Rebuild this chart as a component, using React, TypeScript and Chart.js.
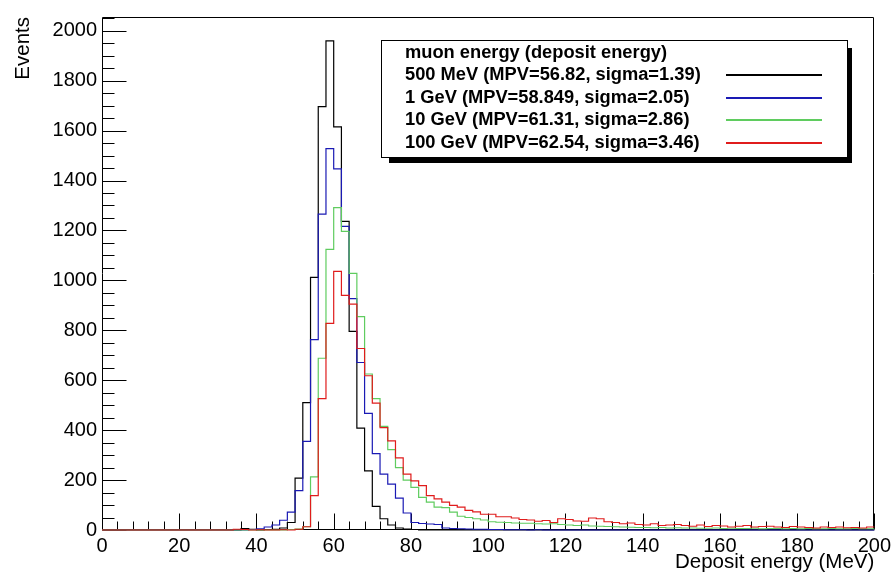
import React, { useEffect, useRef } from "react";
import { Chart, registerables } from "chart.js";

Chart.register(...registerables);

// ---- data ----
const X_MIN = 0;
const X_MAX = 200;
const BIN_WIDTH = 2;
const BIN_LOW_EDGES: number[] = Array.from({ length: (X_MAX - X_MIN) / BIN_WIDTH }, (_, i) => X_MIN + i * BIN_WIDTH);
const X_TICKS = [0, 20, 40, 60, 80, 100, 120, 140, 160, 180, 200];
const Y_TICKS = [0, 200, 400, 600, 800, 1000, 1200, 1400, 1600, 1800, 2000];
const Y_MAX = 2055;

const X_TITLE = "Deposit energy (MeV)";
const Y_TITLE = "Events";
const LEGEND_HEADER = "muon energy (deposit energy)";
const SERIES_LABELS = [
  "500 MeV (MPV=56.82, sigma=1.39)",
  "1 GeV (MPV=58.849, sigma=2.05)",
  "10 GeV (MPV=61.31, sigma=2.86)",
  "100 GeV (MPV=62.54, sigma=3.46)",
];
const SERIES_COLORS = ["#000000", "#1a1ab4", "#5fcc5f", "#e01c1c"];

const E_500MEV = [
  0, 0, 0, 0, 0, 0, 0, 0, 0, 0,
  0, 0, 0, 0, 0, 0, 0, 0, 6, 3,
  0, 2, 3, 8, 30, 208, 510, 1012, 1696, 1959,
  1615, 1236, 796, 408, 237, 95, 45, 20, 8, 4,
  2, 0, 0, 0, 0, 0, 0, 0, 0, 0,
  0, 0, 0, 0, 0, 0, 0, 0, 0, 0,
  0, 0, 0, 0, 0, 0, 0, 0, 0, 0,
  0, 0, 0, 0, 0, 0, 0, 0, 0, 0,
  0, 0, 0, 0, 0, 0, 0, 0, 0, 0,
  0, 0, 0, 0, 0, 0, 0, 0, 0, 0,
];
const E_1GEV = [
  0, 0, 0, 0, 0, 0, 0, 0, 0, 0,
  0, 0, 0, 0, 0, 0, 0, 0, 0, 2,
  5, 12, 20, 39, 72, 158, 355, 763, 1265, 1528,
  1447, 1216, 927, 671, 467, 306, 224, 184, 128, 68,
  30, 26, 24, 22, 8, 6, 5, 4, 3, 3,
  2, 2, 1, 1, 1, 0, 1, 0, 0, 0,
  0, 0, 0, 0, 0, 0, 0, 0, 0, 0,
  0, 0, 0, 0, 0, 0, 0, 0, 0, 0,
  0, 0, 0, 0, 0, 0, 0, 0, 0, 0,
  0, 0, 0, 0, 0, 0, 0, 0, 0, 0,
];
const E_10GEV = [
  0, 0, 0, 0, 0, 0, 0, 0, 0, 0,
  0, 0, 0, 0, 0, 0, 0, 0, 0, 0,
  0, 0, 0, 0, 2, 4, 13, 213, 688, 1124,
  1291, 1196, 1028, 855, 625, 526, 415, 322, 250, 200,
  171, 131, 112, 92, 90, 72, 55, 50, 45, 40,
  33, 31, 30, 28, 27, 27, 25, 24, 25, 22,
  20, 18, 20, 16, 15, 14, 13, 12, 11, 10,
  10, 9, 10, 8, 9, 8, 8, 7, 7, 8,
  6, 7, 6, 6, 7, 5, 6, 6, 5, 6,
  5, 6, 5, 5, 6, 5, 5, 6, 5, 5,
];
const E_100GEV = [
  0, 0, 0, 0, 0, 0, 0, 0, 0, 0,
  0, 0, 0, 0, 0, 0, 0, 3, 2, 0,
  1, 0, 0, 1, 0, 3, 13, 138, 526, 828,
  1036, 940, 905, 727, 618, 508, 410, 357, 289, 224,
  197, 178, 138, 125, 112, 99, 92, 79, 73, 63,
  63, 53, 53, 48, 42, 40, 35, 38, 30, 45,
  42, 36, 35, 48, 45, 33, 30, 25, 28, 22,
  20, 25, 18, 20, 22, 18, 15, 20, 14, 18,
  16, 12, 15, 18, 12, 14, 15, 12, 10, 14,
  12, 10, 8, 12, 10, 12, 9, 10, 8, 12,
];
const SERIES_VALUES = [E_500MEV, E_1GEV, E_10GEV, E_100GEV];

const FONT = "'Liberation Sans', Arial, Helvetica, sans-serif";

const framePlugin = {
  id: "rootFrame",
  beforeDatasetsDraw(chart: any) {
    const { ctx, chartArea, scales } = chart;
    const xs = scales.x;
    const ys = scales.y;
    const L = Math.round(chartArea.left) + 0.5;
    const R = Math.round(chartArea.right) - 0.5;
    const T = Math.round(chartArea.top) + 0.5;
    const B = Math.round(chartArea.bottom) - 0.5;
    ctx.save();
    ctx.strokeStyle = "#000";
    ctx.lineWidth = 1;
    ctx.beginPath();
    ctx.rect(L, T, R - L, B - T);
    ctx.stroke();
    ctx.beginPath();
    for (let v = 0; v <= X_MAX; v += 4) {
      const px = Math.round(xs.getPixelForValue(v)) + 0.5;
      const len = v % 20 === 0 ? 16 : 8;
      ctx.moveTo(px, B);
      ctx.lineTo(px, B - len);
    }
    for (let v = 0; v <= Y_MAX; v += 50) {
      const py = Math.round(ys.getPixelForValue(v)) + 0.5;
      const len = v % 200 === 0 ? 24 : 12;
      ctx.moveTo(L, py);
      ctx.lineTo(L + len, py);
    }
    ctx.stroke();
    ctx.restore();
  },
};

const legendPlugin = {
  id: "rootLegend",
  afterDraw(chart: any) {
    const { ctx } = chart;
    const x0 = 381.5, y0 = 40.5, x1 = 847.5, y1 = 157.5;
    ctx.save();
    ctx.fillStyle = "#000";
    ctx.fillRect(389, 48, 463, 115);
    ctx.fillStyle = "#fff";
    ctx.fillRect(x0, y0, x1 - x0, y1 - y0);
    ctx.strokeStyle = "#000";
    ctx.lineWidth = 1;
    ctx.strokeRect(x0, y0, x1 - x0, y1 - y0);
    ctx.font = `bold 18.3px ${FONT}`;
    ctx.textBaseline = "middle";
    ctx.textAlign = "left";
    ctx.fillStyle = "#000";
    const rowH = 22.4;
    const firstY = 53;
    ctx.fillText(LEGEND_HEADER, 405, firstY);
    chart.data.datasets.forEach((ds: any, i: number) => {
      const y = firstY + rowH * (i + 1);
      ctx.fillStyle = "#000";
      ctx.fillText(ds.label, 405, y);
      ctx.strokeStyle = ds.borderColor;
      ctx.lineWidth = 2;
      ctx.beginPath();
      ctx.moveTo(726, Math.round(y));
      ctx.lineTo(822, Math.round(y));
      ctx.stroke();
    });
    ctx.restore();
  },
};

export default function App() {
  const ref = useRef<HTMLCanvasElement>(null);
  useEffect(() => {
    const canvas = ref.current;
    if (!canvas) return;
    const mk = (vals: number[]) => [
      ...BIN_LOW_EDGES.map((x, i) => ({ x, y: vals[i] })),
      { x: X_MAX, y: vals[vals.length - 1] },
    ];
    const n = SERIES_VALUES.length;
    const chart = new Chart(canvas, {
      type: "line",
      data: {
        datasets: SERIES_VALUES.map((vals, i) => ({
          label: SERIES_LABELS[i],
          data: mk(vals),
          borderColor: SERIES_COLORS[i],
          backgroundColor: SERIES_COLORS[i],
          borderWidth: 1.2,
          pointRadius: 0,
          stepped: "before",
          fill: false,
          tension: 0,
          order: n - i,
          clip: false,
        })),
      },
      options: {
        responsive: false,
        animation: false,
        devicePixelRatio: 1,
        events: [],
        layout: { padding: { left: 0, top: 9, right: 19, bottom: 0 } },
        plugins: { legend: { display: false }, tooltip: { enabled: false } },
        scales: {
          x: {
            type: "linear",
            min: X_MIN,
            max: X_MAX,
            grid: { display: false, drawTicks: false },
            border: { display: false },
            afterBuildTicks: (s: any) => {
              s.ticks = X_TICKS.map((v) => ({ value: v }));
            },
            afterFit: (s: any) => {
              s.height = 47;
            },
            ticks: {
              font: { family: FONT, size: 20 },
              color: "#000",
              padding: 4,
              maxRotation: 0,
              autoSkip: false,
              callback: (v: any) => String(v),
            },
            title: {
              display: true,
              text: X_TITLE,
              align: "end",
              font: { family: FONT, size: 20.5 },
              color: "#000",
              padding: { top: 0, bottom: 2 },
            },
          },
          y: {
            type: "linear",
            min: 0,
            max: Y_MAX,
            grid: { display: false, drawTicks: false },
            border: { display: false },
            afterBuildTicks: (s: any) => {
              s.ticks = Y_TICKS.map((v) => ({ value: v }));
            },
            afterFit: (s: any) => {
              s.width = 102;
            },
            ticks: {
              font: { family: FONT, size: 20 },
              color: "#000",
              padding: 5,
              autoSkip: false,
              callback: (v: any) => String(v),
            },
            title: {
              display: true,
              text: Y_TITLE,
              align: "end",
              font: { family: FONT, size: 20.5 },
              color: "#000",
              padding: { top: 11, bottom: 0 },
            },
          },
        },
      },
      plugins: [framePlugin, legendPlugin],
    } as any);
    return () => chart.destroy();
  }, []);
  return (
    <div style={{ position: "fixed", left: 0, top: 0, width: 895, height: 577, background: "#fff" }}>
      <canvas ref={ref} width={895} height={577} style={{ display: "block" }} />
    </div>
  );
}
